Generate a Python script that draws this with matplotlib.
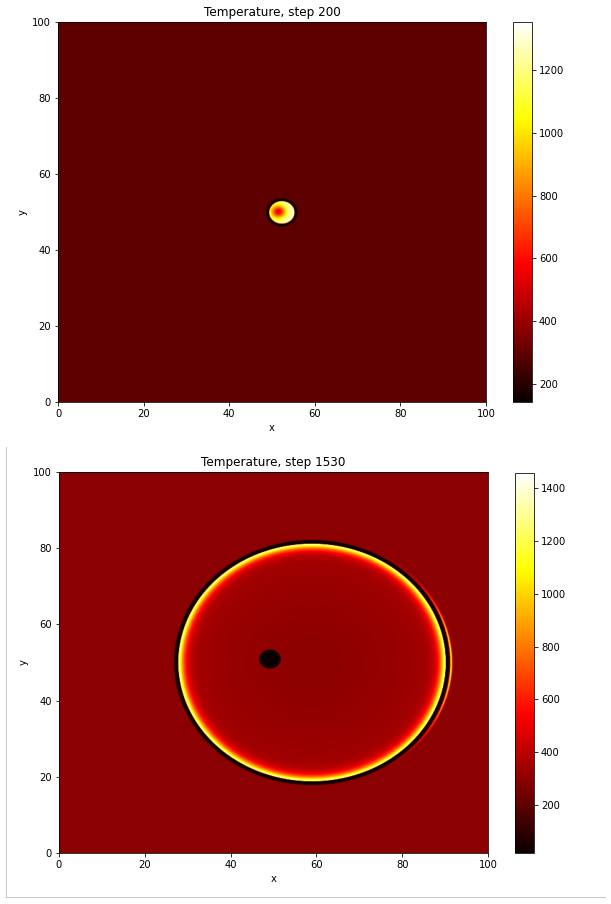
import numpy as np
import matplotlib
matplotlib.use("Agg")
import matplotlib.pyplot as plt
from matplotlib.lines import Line2D

# ---------------------------------------------------------------------
# field parameters (temperatures in K, lengths in grid units)
steps = [200, 1530]
t_ambient = [298, 296]
t_limits = [(143, 1353), (18, 1458)]
cbar_ticks = [[200, 400, 600, 800, 1000, 1200],
              [200, 400, 600, 800, 1000, 1200, 1400]]
axis_ticks = [0, 20, 40, 60, 80, 100]

# step 200: small hot droplet
drop_center = (52.3, 49.9)
drop_radius = 3.7
drop_rim_t = 143
drop_core_t = 1350
spot_center = (51.5, 50.1)
spot_dip = 800

# step 1530: expanding front
front_center = (59.0, 50.0)
front_radius = 31.6
front_cold_t = 18
front_peak_t = 1458
interior_t = [302, 360]          # centre, edge
dot_center = (49.2, 50.9)
dot_radius = 2.5
ghost_peak_t = 1150

n = 600
xs = np.linspace(0, 100, n)
X, Y = np.meshgrid(xs, xs)


def step(v, w):
    # smooth 0 -> 1 transition across v = 0
    return 0.5 * (1 + np.tanh(v / w))


def field_step200():
    r = np.hypot(X - drop_center[0], Y - drop_center[1])
    d2 = (X - spot_center[0]) ** 2 + (Y - spot_center[1]) ** 2
    core = (drop_core_t - spot_dip * np.exp(-d2 / (2 * 1.35 ** 2))
            - 120 * (r / drop_radius) ** 4)
    rim_in = drop_radius - 0.7
    T = t_ambient[0] + (core - t_ambient[0]) * step(rim_in - r, 0.08)
    band = step(r - rim_in, 0.08) * step(drop_radius - r, 0.08)
    T = T * (1 - band) + drop_rim_t * band
    return T


def field_step1530():
    dx, dy = X - front_center[0], Y - front_center[1]
    r = np.hypot(dx, dy)
    R = front_radius
    inner_edge = R - 0.35
    outer_edge = R + 0.6
    depth = np.maximum(inner_edge - r, 0)
    base = interior_t[0] + (interior_t[1] - interior_t[0]) * (r / R) ** 2
    hot = base + (front_peak_t - base) * np.exp(-(depth / 1.25) ** 1.2)
    T = t_ambient[1] + (hot - t_ambient[1]) * step(inner_edge - r, 0.08)
    cold = step(r - inner_edge, 0.08) * step(outer_edge - r, 0.08)
    T = T * (1 - cold) + front_cold_t * cold
    # faint hot arc just outside the front on the right side
    cos_t = np.clip(dx / np.maximum(r, 1e-9), 0, 1)
    g = np.exp(-((r - (outer_edge + 0.3)) / 0.25) ** 2) * cos_t ** 6
    T = T + (ghost_peak_t - t_ambient[1]) * g
    dot = step(dot_radius - np.hypot(X - dot_center[0], Y - dot_center[1]), 0.08)
    T = T * (1 - dot) + front_cold_t * dot
    return T


fields = [field_step200(), field_step1530()]

# ---------------------------------------------------------------------
W, H = 611, 904
fig = plt.figure(figsize=(W / 72, H / 72), dpi=72)


def box(x0, x1, y0, y1):
    return [x0 / W, 1 - y1 / H, (x1 - x0) / W, (y1 - y0) / H]


ax_boxes = [box(58, 486, 22, 402), box(59, 488, 472, 853)]
cax_boxes = [box(513, 532, 22, 402), box(515, 534, 473, 853)]

for k in range(2):
    ax = fig.add_axes(ax_boxes[k])
    cax = fig.add_axes(cax_boxes[k])
    im = ax.imshow(fields[k], cmap="hot", origin="lower", extent=[0, 100, 0, 100],
                   aspect="auto", vmin=t_limits[k][0], vmax=t_limits[k][1],
                   interpolation="antialiased")
    ax.set_title(f"Temperature, step {steps[k]}")
    ax.set_xlabel("x")
    ax.set_ylabel("y")
    ax.set_xticks(axis_ticks)
    ax.set_yticks(axis_ticks)
    cb = fig.colorbar(im, cax=cax)
    cb.set_ticks(cbar_ticks[k])

# light frame around the second output cell
frame_color = "#c8c8c8"
fig.add_artist(Line2D([6 / W, 6 / W], [1 - 447 / H, 1 - 897 / H],
                      transform=fig.transFigure, color=frame_color, lw=1))
fig.add_artist(Line2D([6 / W, 605 / W], [1 - 897 / H, 1 - 897 / H],
                      transform=fig.transFigure, color=frame_color, lw=1))

fig.savefig("out.png", dpi=72)
